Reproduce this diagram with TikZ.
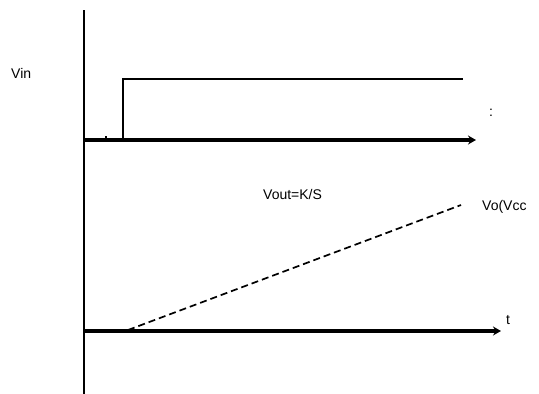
\documentclass[tikz,border=0pt]{standalone}
\usepackage{fontspec}
\setmainfont{Liberation Sans}
\usetikzlibrary{arrows.meta}
\begin{document}
\begin{tikzpicture}[x=1pt,y=-1pt,
  axis/.style={line width=3.4pt,-{Stealth[length=8pt,width=9pt]}},
  vaxis/.style={line width=2pt},
  signal/.style={line width=1.8pt},
  ramp/.style={line width=1.7pt,dash pattern=on 7pt off 4pt},
  lbl/.style={inner sep=0pt,font=\fontsize{14}{14}\selectfont}]
\useasboundingbox[fill=white] (0,0) rectangle (539,394);
% vertical axis
\coordinate (vtop) at (84,10);
\coordinate (vbot) at (84,394);
\draw[vaxis] (vtop) -- (vbot);
% top axis
\coordinate (o1) at (84,140);
\coordinate (e1) at (476,140);
\draw[axis] (o1) -- (e1);
% step
\coordinate (s0) at (123,140);
\coordinate (s1) at (123,79);
\coordinate (s2) at (463,79);
\draw[signal] (s0) -- (s1) -- (s2);
\coordinate (tk) at (106,140);
\draw[line width=1.2pt] (tk) -- ++(0,-4);
% bottom axis
\coordinate (o2) at (84,331);
\coordinate (e2) at (501,331);
\draw[axis] (o2) -- (e2);
% ramp
\coordinate (r0) at (128,330);
\coordinate (r1) at (461,205);
\draw[ramp] (r0) -- (r1);
% labels
\node[lbl,anchor=west] (vin) at (11,73) {Vin};
\node[lbl,anchor=west] (colon) at (489,113) {:};
\node[lbl,anchor=west] (tl) at (506,320) {t};
\node[lbl,anchor=west] (vout) at (263,194) {Vout=K/S};
\node[lbl,anchor=west] (vo) at (482,207) {Vo(Vcc};
\end{tikzpicture}
\end{document}
